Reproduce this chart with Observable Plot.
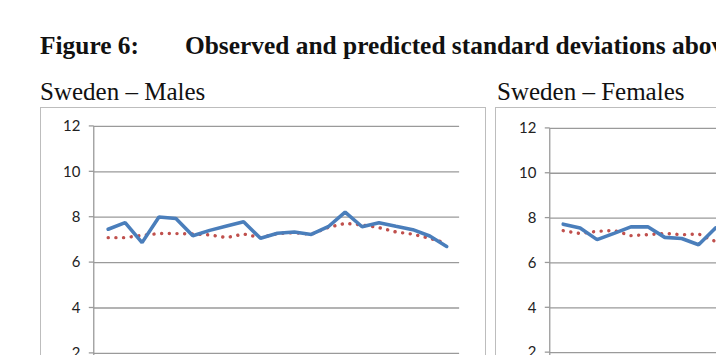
<!DOCTYPE html>
<html>
<head>
<meta charset="utf-8">
<script src="https://cdn.jsdelivr.net/npm/d3@7"></script>
<script src="https://cdn.jsdelivr.net/npm/@observablehq/plot@0.6"></script>
<style>
  html, body { margin: 0; padding: 0; width: 716px; height: 355px; overflow: hidden; background: #fff; }
  .t { position: absolute; font-family: "Liberation Serif", "Times New Roman", serif; font-size: 25px; line-height: 1; color: #111; white-space: nowrap; }
  .b { font-weight: bold; font-size: 25.4px; }
  .box { position: absolute; border: 1.5px solid #bdbdbd; box-sizing: border-box; background: #fff; }
  .box svg { position: absolute; left: 0; top: 0; overflow: visible; }
</style>
</head>
<body>
<div class="t b" style="left:40px; top:33px;">Figure 6:</div>
<div class="t b" style="left:185px; top:33px;">Observed and predicted standard deviations above age 10</div>
<div class="t" style="left:40px; top:78.5px;">Sweden – Males</div>
<div class="t" style="left:497px; top:78.5px;">Sweden – Females</div>
<div id="left" class="box" style="left:40px; top:107px; width:446px; height:320px;"></div>
<div id="right" class="box" style="left:495px; top:107px; width:446px; height:320px;"></div>
<script>
// categories (periods along the x axis; labels are outside the visible crop)
const periods = ["1990","1991","1992","1993","1994","1995","1996","1997","1998","1999","2000",
                 "2001","2002","2003","2004","2005","2006","2007","2008","2009","2010"];
const yTicks = [0, 2, 4, 6, 8, 10, 12];

// Sweden – Males
const malesObserved  = [7.47, 7.76, 6.88, 8.01, 7.94, 7.18, 7.42, 7.61, 7.80, 7.07, 7.29,
                        7.35, 7.24, 7.58, 8.22, 7.58, 7.76, 7.60, 7.45, 7.17, 6.71];
const malesPredicted = [7.10, 7.10, 7.20, 7.28, 7.28, 7.26, 7.22, 7.10, 7.26, 7.10, 7.28,
                        7.32, 7.25, 7.55, 7.73, 7.66, 7.54, 7.35, 7.25, 7.07, 6.85];
// Sweden – Females (only the visible part of the panel)
const femalesObserved  = [7.73, 7.56, 7.04, 7.32, 7.61, 7.61, 7.14, 7.09, 6.81, 7.56];
const femalesPredicted = [7.44, 7.31, 7.41, 7.45, 7.22, 7.26, 7.32, 7.26, 7.29, 6.96];

function panel(observed, predicted, opts) {
  const obs = observed.map((v, i) => ({p: periods[i], v}));
  const pred = predicted.map((v, i) => ({p: periods[i], v}));
  return Plot.plot({
    width: 446,
    height: 330,
    marginLeft: opts.marginLeft,
    marginRight: 26,
    marginTop: opts.marginTop,
    marginBottom: opts.marginBottom,
    style: {background: "transparent", fontFamily: "Lato, 'Open Sans', sans-serif", fontSize: "15px", color: "#222"},
    x: {type: "point", domain: periods, padding: 0.5, axis: null},
    y: {domain: [0, 12], ticks: yTicks, label: null, tickSize: 0},
    marks: [
      Plot.ruleY(yTicks, {stroke: "#9a9a9a", strokeWidth: 1.3}),
      Plot.ruleY(yTicks, {
        render: (I, scales, values, dims) => {
          const g = d3.create("svg:g");
          const x0 = dims.marginLeft;
          for (const t of yTicks) {
            const y = scales.y(t);
            g.append("line").attr("x1", x0 - 5).attr("x2", x0).attr("y1", y).attr("y2", y)
              .attr("stroke", "#9a9a9a").attr("stroke-width", 1.3);
          }
          return g.node();
        }}),
      Plot.ruleX([periods[0]], {
        render: (I, scales, values, dims) => {
          const g = d3.create("svg:g");
          g.append("line").attr("x1", dims.marginLeft).attr("x2", dims.marginLeft)
            .attr("y1", scales.y(12)).attr("y2", scales.y(0))
            .attr("stroke", "#9a9a9a").attr("stroke-width", 1.3);
          return g.node();
        }}),
      Plot.axisY(yTicks, {tickSize: 0, tickPadding: 14, fill: "#222", fontSize: 15}),
      Plot.line(pred, {x: "p", y: "v", stroke: "#C0504D", strokeWidth: 3.4,
        strokeDasharray: "0.1 7.6", strokeLinecap: "round"}),
      Plot.line(obs, {x: "p", y: "v", stroke: "#4A7EBB", strokeWidth: 3.6,
        strokeLinejoin: "miter", strokeLinecap: "round"})
    ]
  });
}

document.getElementById("left").append(
  panel(malesObserved, malesPredicted, {marginLeft: 53, marginTop: 18, marginBottom: 38.4}));
document.getElementById("right").append(
  panel(femalesObserved, femalesPredicted, {marginLeft: 54, marginTop: 20, marginBottom: 39.7}));
</script>
</body>
</html>
